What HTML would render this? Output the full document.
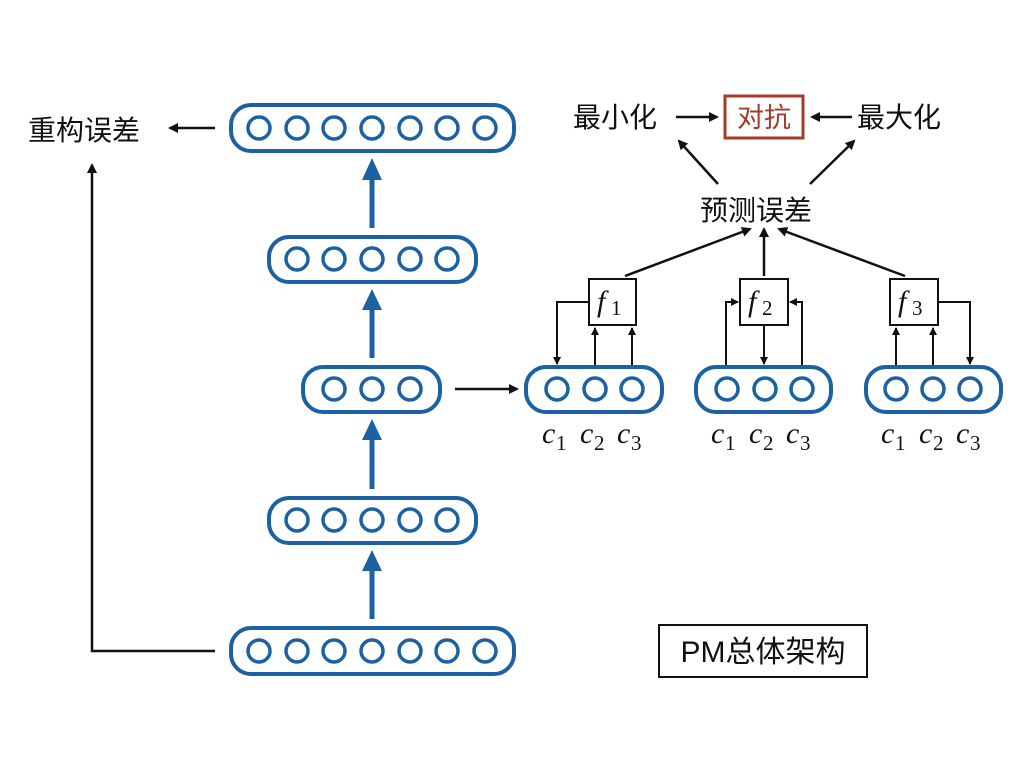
<!DOCTYPE html>
<html><head><meta charset="utf-8"><style>
html,body{margin:0;padding:0;background:#fff;}
svg{display:block;}
.cn{font-family:"Liberation Sans","Noto Sans CJK SC",sans-serif;fill:#111;}
.m{font-family:"Liberation Serif","DejaVu Serif",serif;font-style:italic;fill:#111;}
.s{font-family:"Liberation Serif","DejaVu Serif",serif;fill:#111;}
</style></head><body>
<svg width="1024" height="768" viewBox="0 0 1024 768" xmlns="http://www.w3.org/2000/svg">
<defs>
<marker id="ab" markerWidth="10" markerHeight="10" refX="8" refY="5" orient="auto" markerUnits="userSpaceOnUse"><path d="M0,0 L10,5 L0,10 z" fill="#111"/></marker>
<marker id="as" markerWidth="8" markerHeight="8" refX="7" refY="4" orient="auto" markerUnits="userSpaceOnUse"><path d="M0,0 L8,4 L0,8 z" fill="#111"/></marker>
</defs>
<g fill="none" stroke="#1c62a3" stroke-width="4">
<rect x="231" y="105" width="283" height="46" rx="20"/>
<rect x="269" y="237" width="207" height="45" rx="20"/>
<rect x="303" y="367" width="137" height="45" rx="20"/>
<rect x="269" y="498" width="207" height="45" rx="20"/>
<rect x="231" y="628" width="283" height="46" rx="20"/>
<rect x="526" y="367" width="136" height="45" rx="20"/>
<rect x="696" y="367" width="135" height="45" rx="20"/>
<rect x="866" y="367" width="135" height="45" rx="20"/>
<g stroke-width="3.5">
<circle cx="259" cy="128" r="11"/><circle cx="297" cy="128" r="11"/><circle cx="334" cy="128" r="11"/><circle cx="372" cy="128" r="11"/><circle cx="410" cy="128" r="11"/><circle cx="447" cy="128" r="11"/><circle cx="485" cy="128" r="11"/>
<circle cx="297" cy="259" r="11"/><circle cx="334" cy="259" r="11"/><circle cx="372" cy="259" r="11"/><circle cx="410" cy="259" r="11"/><circle cx="447" cy="259" r="11"/>
<circle cx="334" cy="389" r="11"/><circle cx="372" cy="389" r="11"/><circle cx="410" cy="389" r="11"/>
<circle cx="297" cy="520" r="11"/><circle cx="334" cy="520" r="11"/><circle cx="372" cy="520" r="11"/><circle cx="410" cy="520" r="11"/><circle cx="447" cy="520" r="11"/>
<circle cx="259" cy="651" r="11"/><circle cx="297" cy="651" r="11"/><circle cx="334" cy="651" r="11"/><circle cx="372" cy="651" r="11"/><circle cx="410" cy="651" r="11"/><circle cx="447" cy="651" r="11"/><circle cx="485" cy="651" r="11"/>
<circle cx="557" cy="389" r="11"/><circle cx="595" cy="389" r="11"/><circle cx="632" cy="389" r="11"/>
<circle cx="727" cy="389" r="11"/><circle cx="765" cy="389" r="11"/><circle cx="802" cy="389" r="11"/>
<circle cx="896" cy="389" r="11"/><circle cx="933" cy="389" r="11"/><circle cx="970" cy="389" r="11"/>
</g>
</g>
<g stroke="#1c62a3" stroke-width="5">
<line x1="372" y1="228" x2="372" y2="178"/><line x1="372" y1="358" x2="372" y2="308"/><line x1="372" y1="489" x2="372" y2="438"/><line x1="372" y1="619" x2="372" y2="569"/>
</g>
<g fill="#1c62a3">
<path d="M362,180 L372,158 L382,180 z"/><path d="M362,310 L372,289 L382,310 z"/><path d="M362,440 L372,419 L382,440 z"/><path d="M362,571 L372,550 L382,571 z"/>
</g>
<g stroke="#111" stroke-width="2.5" fill="none">
<polyline points="215,651 92,651 92,165" marker-end="url(#ab)"/>
<line x1="215" y1="128" x2="170" y2="128" marker-end="url(#ab)"/>
<line x1="455" y1="389" x2="517" y2="389" marker-end="url(#ab)"/>
<line x1="676" y1="117" x2="717" y2="117" marker-end="url(#ab)"/>
<line x1="852" y1="117" x2="812" y2="117" marker-end="url(#ab)"/>
<line x1="718" y1="184" x2="679" y2="141" marker-end="url(#ab)"/>
<line x1="810" y1="184" x2="854" y2="141" marker-end="url(#ab)"/>
<line x1="625" y1="276" x2="750" y2="229" marker-end="url(#ab)"/>
<line x1="764" y1="276" x2="764" y2="229" marker-end="url(#ab)"/>
<line x1="905" y1="276" x2="779" y2="229" marker-end="url(#ab)"/>
</g>
<g stroke="#111" stroke-width="2" fill="none">
<rect x="589" y="279" width="47" height="46" fill="#fff"/>
<rect x="740" y="279" width="48" height="46" fill="#fff"/>
<rect x="890" y="279" width="48" height="46" fill="#fff"/>
<polyline points="589,302 557,302 557,364" marker-end="url(#as)"/>
<line x1="595" y1="365" x2="595" y2="328" marker-end="url(#as)"/>
<line x1="632" y1="365" x2="632" y2="328" marker-end="url(#as)"/>
<polyline points="726,365 726,302 738,302" marker-end="url(#as)"/>
<line x1="764" y1="326" x2="764" y2="364" marker-end="url(#as)"/>
<polyline points="802,365 802,302 790,302" marker-end="url(#as)"/>
<line x1="896" y1="365" x2="896" y2="328" marker-end="url(#as)"/>
<line x1="933" y1="365" x2="933" y2="328" marker-end="url(#as)"/>
<polyline points="938,302 970,302 970,364" marker-end="url(#as)"/>
<rect x="659" y="625" width="208" height="52"/>
</g>
<rect x="725" y="96" width="78" height="42" fill="none" stroke="#a53a28" stroke-width="3"/>
<text x="764" y="127" text-anchor="middle" font-size="27" style="font-family:'Liberation Sans','Noto Sans CJK SC',sans-serif" fill="#a53a28">对抗</text>
<text class="cn" x="28" y="140" font-size="28">重构误差</text>
<text class="cn" x="573" y="127" font-size="28">最小化</text>
<text class="cn" x="857" y="127" font-size="28">最大化</text>
<text class="cn" x="700" y="220" font-size="28">预测误差</text>
<text class="cn" x="763" y="662" text-anchor="middle" font-size="30">PM总体架构</text>
<g font-size="30">
<text class="m" x="597" y="311">f</text><text class="s" x="611" y="315" font-size="21">1</text>
<text class="m" x="748" y="311">f</text><text class="s" x="762" y="315" font-size="21">2</text>
<text class="m" x="898" y="311">f</text><text class="s" x="912" y="315" font-size="21">3</text>
</g>
<g font-size="30">
<text class="m" x="542" y="443">c</text><text class="s" x="556" y="450" font-size="21">1</text>
<text class="m" x="580" y="443">c</text><text class="s" x="594" y="450" font-size="21">2</text>
<text class="m" x="617" y="443">c</text><text class="s" x="631" y="450" font-size="21">3</text>
<text class="m" x="711" y="443">c</text><text class="s" x="725" y="450" font-size="21">1</text>
<text class="m" x="749" y="443">c</text><text class="s" x="763" y="450" font-size="21">2</text>
<text class="m" x="786" y="443">c</text><text class="s" x="800" y="450" font-size="21">3</text>
<text class="m" x="881" y="443">c</text><text class="s" x="895" y="450" font-size="21">1</text>
<text class="m" x="919" y="443">c</text><text class="s" x="933" y="450" font-size="21">2</text>
<text class="m" x="956" y="443">c</text><text class="s" x="970" y="450" font-size="21">3</text>
</g>
</svg>
</body></html>
